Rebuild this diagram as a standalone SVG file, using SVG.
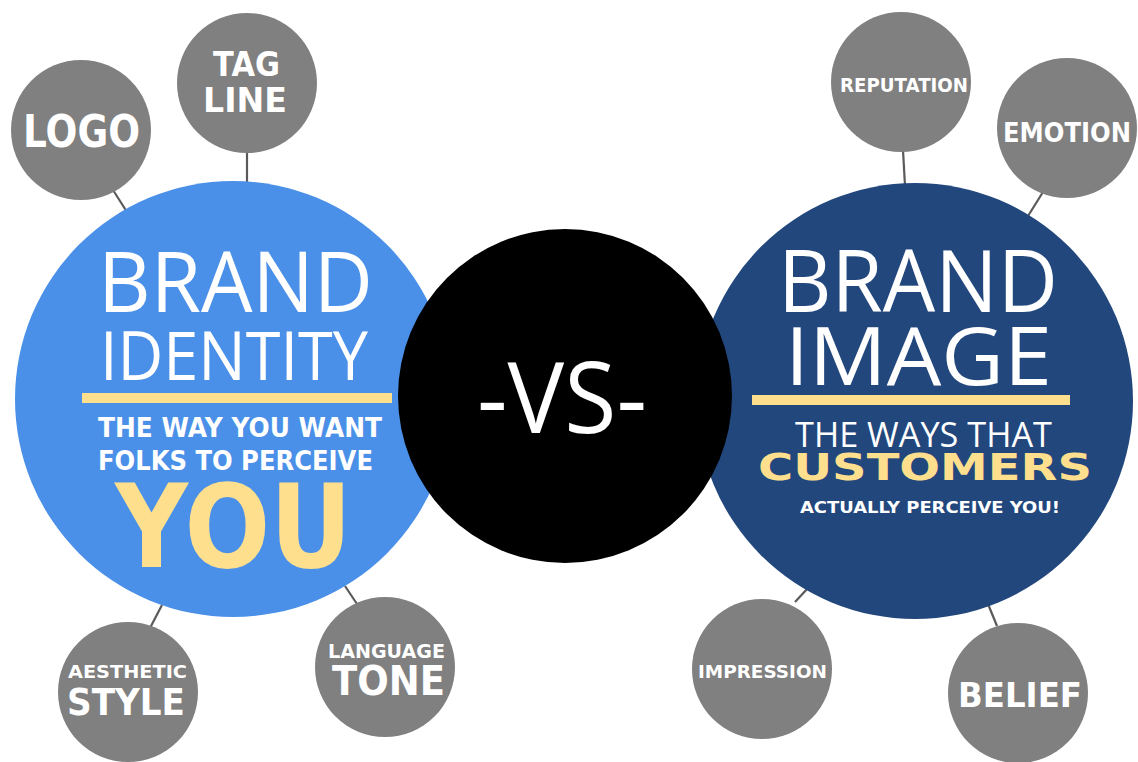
<svg xmlns="http://www.w3.org/2000/svg" width="1138" height="762" viewBox="0 0 1138 762">
<style>
.sat{fill:#808080}
.conn line{stroke:#5a5a5a;stroke-width:2.2}
.lbl{font-family:"DejaVu Sans","Liberation Sans",sans-serif;font-weight:bold;fill:#ffffff;text-anchor:middle}
.thin{font-family:"Open Sans","Liberation Sans",sans-serif;font-weight:400;fill:#ffffff;text-anchor:middle}
.yel{fill:#fddf8e}
</style>
<rect width="1138" height="762" fill="#ffffff"/>
<g id="connectors" class="conn">
<line x1="247" y1="150" x2="247" y2="184"/>
<line x1="113" y1="190" x2="127" y2="212"/>
<line x1="150" y1="628" x2="162" y2="605"/>
<line x1="345" y1="586" x2="357" y2="604"/>
<line x1="903" y1="150" x2="905" y2="186"/>
<line x1="1043" y1="192" x2="1028" y2="216"/>
<line x1="795" y1="602" x2="808" y2="588"/>
<line x1="988" y1="604" x2="997" y2="626"/>
</g>
<g id="brand-identity">
<circle cx="233" cy="399" r="218" fill="#4a90e8"/>
<text class="thin" x="235.5" y="312" font-size="84" textLength="275" lengthAdjust="spacingAndGlyphs">BRAND</text>
<text class="thin" x="234" y="380" font-size="67" textLength="268" lengthAdjust="spacingAndGlyphs">IDENTITY</text>
<rect class="yel" x="82" y="393" width="310" height="10"/>
<text class="lbl" x="240" y="437" font-size="26" textLength="284" lengthAdjust="spacingAndGlyphs">THE WAY YOU WANT</text>
<text class="lbl" x="235.5" y="470" font-size="26" textLength="275" lengthAdjust="spacingAndGlyphs">FOLKS TO PERCEIVE</text>
<text class="lbl yel" x="233.5" y="567" font-size="115" textLength="237" lengthAdjust="spacingAndGlyphs">YOU</text>
</g>
<g id="brand-image">
<circle cx="915" cy="401" r="218" fill="#22477d"/>
<text class="thin" x="918" y="312" font-size="86" textLength="280" lengthAdjust="spacingAndGlyphs">BRAND</text>
<text class="thin" x="918.5" y="385" font-size="80" textLength="267" lengthAdjust="spacingAndGlyphs">IMAGE</text>
<rect class="yel" x="752" y="395" width="318" height="10"/>
<text class="thin" x="923.5" y="447" font-size="34" textLength="257" lengthAdjust="spacingAndGlyphs">THE WAYS THAT</text>
<text class="lbl yel" x="925" y="480" font-size="37" textLength="334" lengthAdjust="spacingAndGlyphs">CUSTOMERS</text>
<text class="lbl" x="930" y="513" font-size="16" textLength="260" lengthAdjust="spacingAndGlyphs">ACTUALLY PERCEIVE YOU!</text>
</g>
<g id="vs">
<circle cx="565" cy="396" r="167" fill="#000000"/>
<text class="thin" x="562" y="433" font-size="98" textLength="170" lengthAdjust="spacingAndGlyphs">-VS-</text>
</g>
<g id="logo">
<circle class="sat" cx="81" cy="130" r="70"/>
<text class="lbl" x="81.5" y="147" font-size="44" textLength="117" lengthAdjust="spacingAndGlyphs">LOGO</text>
</g>
<g id="tagline">
<circle class="sat" cx="247" cy="83" r="70"/>
<text class="lbl" x="246.5" y="76" font-size="34" textLength="67" lengthAdjust="spacingAndGlyphs">TAG</text>
<text class="lbl" x="245" y="112" font-size="34" textLength="84" lengthAdjust="spacingAndGlyphs">LINE</text>
</g>
<g id="aesthetic-style">
<circle class="sat" cx="128" cy="692" r="70"/>
<text class="lbl" x="127.5" y="678" font-size="18" textLength="119" lengthAdjust="spacingAndGlyphs">AESTHETIC</text>
<text class="lbl" x="126" y="715" font-size="37" textLength="118" lengthAdjust="spacingAndGlyphs">STYLE</text>
</g>
<g id="language-tone">
<circle class="sat" cx="385" cy="667" r="70"/>
<text class="lbl" x="386.5" y="658" font-size="20" textLength="117" lengthAdjust="spacingAndGlyphs">LANGUAGE</text>
<text class="lbl" x="388.5" y="695" font-size="41" textLength="113" lengthAdjust="spacingAndGlyphs">TONE</text>
</g>
<g id="reputation">
<circle class="sat" cx="901" cy="82" r="70"/>
<text class="lbl" x="904" y="92" font-size="19" textLength="128" lengthAdjust="spacingAndGlyphs">REPUTATION</text>
</g>
<g id="emotion">
<circle class="sat" cx="1067" cy="128" r="70"/>
<text class="lbl" x="1067" y="142" font-size="27" textLength="128" lengthAdjust="spacingAndGlyphs">EMOTION</text>
</g>
<g id="impression">
<circle class="sat" cx="762" cy="669" r="70"/>
<text class="lbl" x="762.5" y="678" font-size="17" textLength="129" lengthAdjust="spacingAndGlyphs">IMPRESSION</text>
</g>
<g id="belief">
<circle class="sat" cx="1018" cy="693" r="70"/>
<text class="lbl" x="1020" y="707" font-size="34" textLength="124" lengthAdjust="spacingAndGlyphs">BELIEF</text>
</g>
</svg>
